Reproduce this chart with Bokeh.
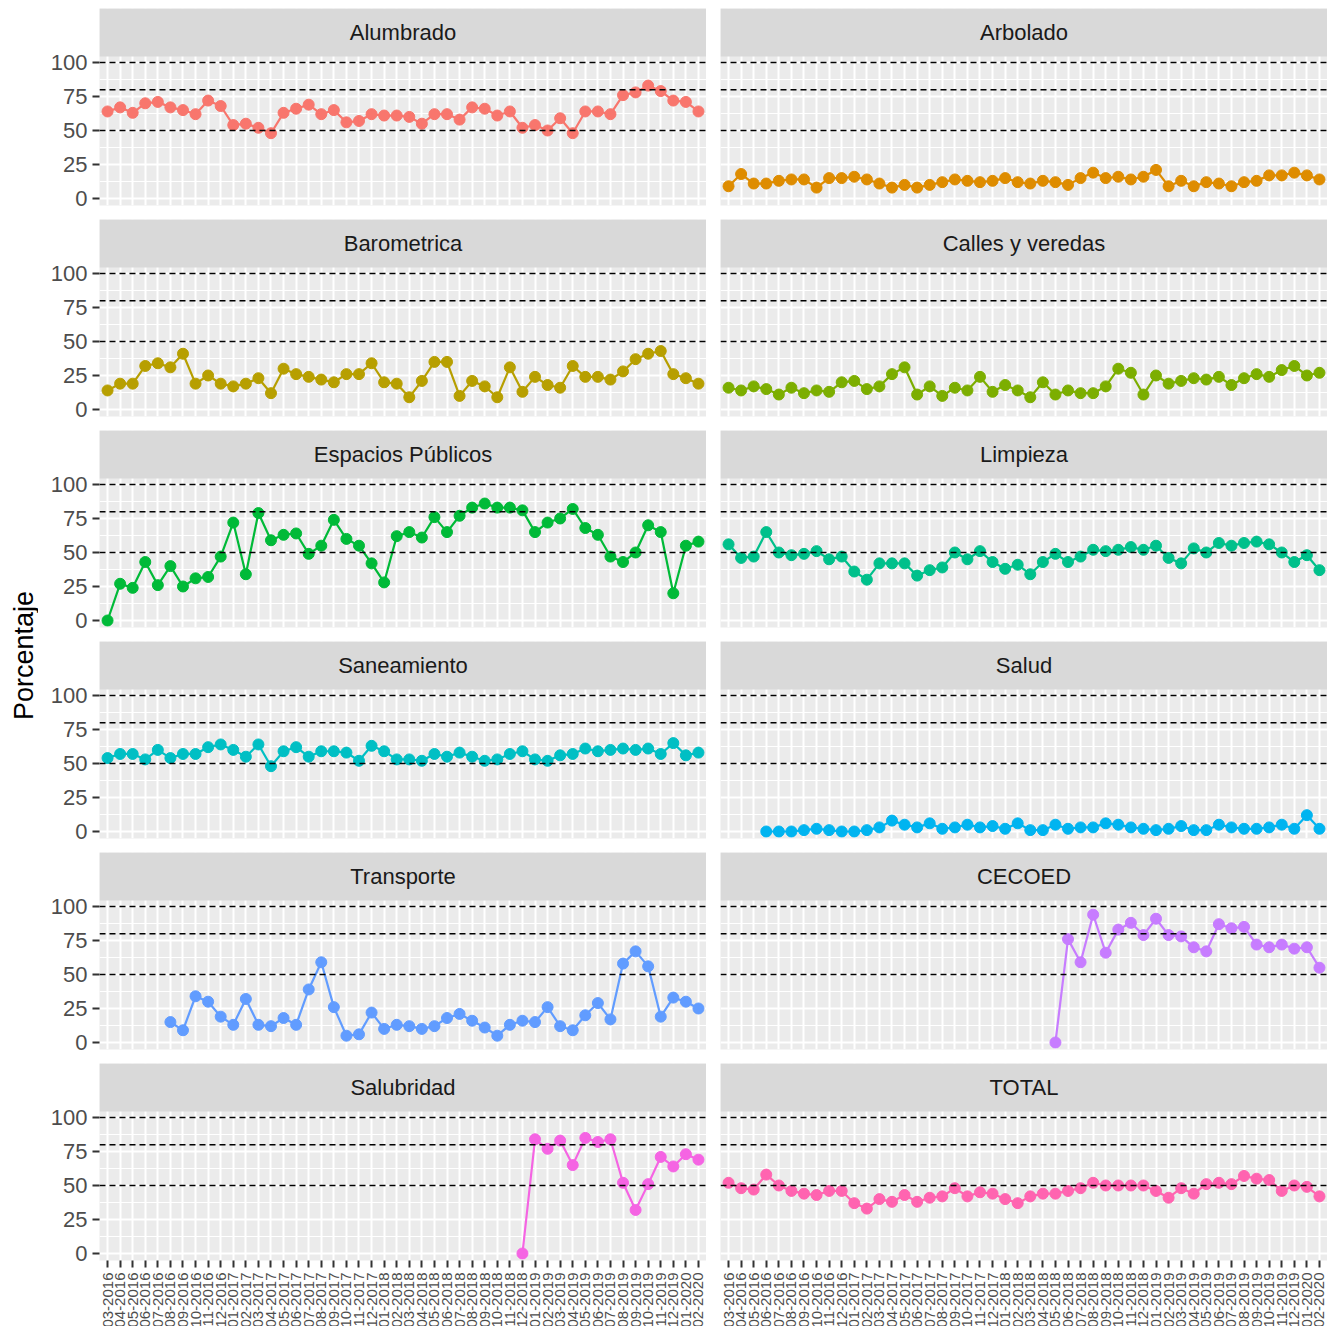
from math import pi
from bokeh.plotting import figure
from bokeh.models import (FactorRange, Range1d, FixedTicker, Span, BoxAnnotation, Label)
from bokeh.layouts import gridplot, row
from bokeh.embed import file_html
from bokeh.resources import INLINE

months = ["%02d-%d" % (m, y) for y in range(2016, 2021) for m in range(1, 13)][2:50]

names = ["Alumbrado", "Arbolado", "Barometrica", "Calles y veredas", "Espacios Públicos",
         "Limpieza", "Saneamiento", "Salud", "Transporte", "CECOED", "Salubridad", "TOTAL"]
colors = ["#F8766D", "#DE8C00", "#B79F00", "#7CAE00", "#00BA38", "#00C08B",
          "#00BFC4", "#00B4F0", "#619CFF", "#C77CFF", "#F564E3", "#FF64B0"]

alumbrado = [64, 67, 63, 70, 71, 67, 65, 62, 72, 68, 54, 55, 52, 48, 63, 66, 69, 62, 65, 56,
             57, 62, 61, 61, 60, 55, 62, 62, 58, 67, 66, 61, 64, 52, 54, 50, 59, 48, 64, 64,
             62, 76, 78, 83, 79, 72, 71, 64]
arbolado = [9, 18, 11, 11, 13, 14, 14, 8, 15, 15, 16, 14, 11, 8, 10, 8, 10, 12, 14, 13,
            12, 13, 15, 12, 11, 13, 12, 10, 15, 19, 15, 16, 14, 16, 21, 9, 13, 9, 12, 11,
            9, 12, 13, 17, 17, 19, 17, 14]
barometrica = [14, 19, 19, 32, 34, 31, 41, 19, 25, 19, 17, 19, 23, 12, 30, 26, 24, 22, 20, 26,
               26, 34, 20, 19, 9, 21, 35, 35, 10, 21, 17, 9, 31, 13, 24, 18, 16, 32, 24, 24,
               22, 28, 37, 41, 43, 26, 23, 19]
calles = [16, 14, 17, 15, 11, 16, 12, 14, 13, 20, 21, 15, 17, 26, 31, 11, 17, 10, 16, 14,
          24, 13, 18, 14, 9, 20, 11, 14, 12, 12, 17, 30, 27, 11, 25, 19, 21, 23, 22, 24,
          18, 23, 26, 24, 29, 32, 25, 27]
espacios = [0, 27, 24, 43, 26, 40, 25, 31, 32, 47, 72, 34, 79, 59, 63, 64, 49, 55, 74, 60,
            55, 42, 28, 62, 65, 61, 76, 65, 77, 83, 86, 83, 83, 81, 65, 72, 75, 82, 68, 63,
            47, 43, 50, 70, 65, 20, 55, 58]
limpieza = [56, 46, 47, 65, 50, 48, 49, 51, 45, 47, 36, 30, 42, 42, 42, 33, 37, 39, 50, 45,
            51, 43, 38, 41, 34, 43, 49, 43, 47, 52, 51, 52, 54, 52, 55, 46, 42, 53, 50, 57,
            55, 57, 58, 56, 50, 43, 48, 37]
saneamiento = [54, 57, 57, 53, 60, 54, 57, 57, 62, 64, 60, 55, 64, 48, 59, 62, 55, 59, 59, 58,
               52, 63, 59, 53, 53, 52, 57, 55, 58, 55, 52, 53, 57, 59, 53, 52, 56, 57, 61, 59,
               60, 61, 60, 61, 57, 65, 56, 58]
salud = [0, 0, 0, 1, 2, 1, 0, 0, 1, 3, 8, 5, 3, 6, 2, 3, 5, 3, 4, 2,
         6, 1, 1, 5, 2, 3, 3, 6, 5, 3, 2, 1, 2, 4, 1, 1, 5, 3, 2, 2,
         3, 5, 2, 12, 2]
transporte = [15, 9, 34, 30, 19, 13, 32, 13, 12, 18, 13, 39, 59, 26, 5, 6, 22, 10, 13, 12,
              10, 12, 18, 21, 16, 11, 5, 13, 16, 15, 26, 12, 9, 20, 29, 17, 58, 67, 56, 19,
              33, 30, 25]
cecoed = [0, 76, 59, 94, 66, 83, 88, 79, 91, 79, 78, 70, 67, 87, 84, 85, 72, 70, 72, 69, 70, 55]
salubridad = [0, 84, 77, 83, 65, 85, 82, 84, 52, 32, 51, 71, 64, 73, 69]
total = [52, 48, 47, 58, 50, 46, 44, 43, 46, 46, 37, 33, 40, 38, 43, 38, 41, 42, 48, 42,
         45, 44, 40, 37, 42, 44, 44, 46, 48, 52, 50, 50, 50, 50, 46, 41, 48, 44, 51, 52,
         51, 57, 55, 54, 46, 50, 49, 42]

series = [alumbrado, arbolado, barometrica, calles, espacios, limpieza,
          saneamiento, salud, transporte, cecoed, salubridad, total]

FONT = "Liberation Sans"
FH = 197
GAP = 14
TOP = 8
figs = []
for i, (name, vals, col) in enumerate(zip(names, series, colors)):
    left = i % 2 == 0
    bottom = i >= 10
    p = figure(x_range=FactorRange(*months, range_padding=0.14, range_padding_units="absolute"),
               y_range=Range1d(-5.15, 139.7),
               frame_width=607, frame_height=FH,
               output_backend="svg", toolbar_location=None,
               min_border_left=61 if left else 14, min_border_right=0,
               min_border_top=TOP if i < 2 else 0,
               min_border_bottom=62 if bottom else GAP)
    p.outline_line_color = None
    p.background_fill_color = "#EBEBEB"
    p.xgrid.grid_line_color = "white"
    p.xgrid.grid_line_width = 2
    p.yaxis.ticker = FixedTicker(ticks=[0, 25, 50, 75, 100],
                                 minor_ticks=[12.5, 37.5, 62.5, 87.5])
    p.ygrid.grid_line_color = "white"
    p.ygrid.grid_line_width = 2
    p.ygrid.minor_grid_line_color = "white"
    p.ygrid.minor_grid_line_width = 1
    for ax in (p.xaxis, p.yaxis):
        ax.axis_line_color = None
        ax.major_tick_line_color = "#333333"
        ax.major_tick_line_width = 2
        ax.major_tick_out = 7
        ax.major_tick_in = 0
        ax.minor_tick_line_color = None
        ax.major_label_text_color = "#4D4D4D"
        ax.major_label_text_font = FONT
    p.yaxis.major_label_text_font_size = "22px"
    p.yaxis.visible = left
    p.xaxis.major_label_text_font_size = "15px"
    p.xaxis.major_label_orientation = pi / 2
    p.xaxis.visible = bottom

    for yv in (50, 80, 100):
        p.add_layout(Span(location=yv, dimension="width", line_color="black",
                          line_dash="6 4", line_width=1.5))
    start = len(months) - len(vals)
    p.line(months[start:], vals, line_color=col, line_width=2.2)
    p.scatter(months[start:], vals, size=11, color=col)

    p.add_layout(BoxAnnotation(bottom=104.4, fill_color="#D9D9D9", fill_alpha=1,
                               line_color=None))
    p.add_layout(Label(x=24, y=122, text=name, text_align="center", text_baseline="middle",
                       text_font=FONT, text_font_size="22px", text_color="#1A1A1A"))
    figs.append(p)

grid = gridplot(figs, ncols=2, toolbar_location=None)

H = TOP + 6 * FH + 5 * GAP + 62
lab = figure(width=38, height=H, x_range=Range1d(0, 38), y_range=Range1d(0, H),
             output_backend="svg", toolbar_location=None, min_border=0)
lab.axis.visible = False
lab.grid.visible = False
lab.outline_line_color = None
lab.add_layout(Label(x=23, y=H - 655, text="Porcentaje", angle=pi / 2, text_align="center",
                     text_baseline="middle", text_font=FONT, text_font_size="27px",
                     text_color="black"))

layout = row(lab, grid)
open("out.html", "w").write(file_html(layout, INLINE))
